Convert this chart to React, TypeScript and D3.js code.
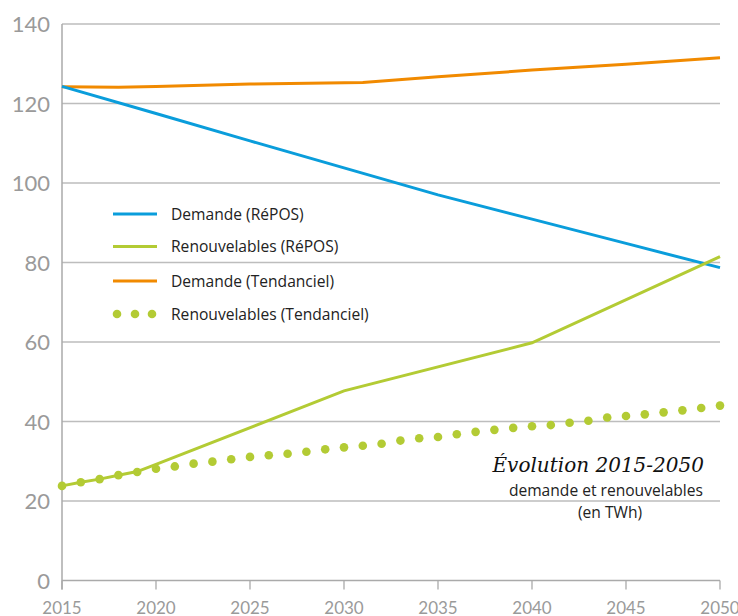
import React from "react";
import * as d3 from "d3";

const years = d3.range(2015, 2051);

// Renouvelables (Tendanciel): one dot per year
const renewTrend = [
  23.8, 24.7, 25.5, 26.5, 27.3, 28.1, 28.7, 29.4, 29.9, 30.5, 31.1, 31.5,
  31.9, 32.4, 33.0, 33.5, 33.9, 34.4, 35.2, 35.8, 36.1, 36.8, 37.4, 37.9,
  38.4, 38.8, 39.1, 39.7, 40.2, 41.0, 41.4, 41.8, 42.3, 42.8, 43.4, 44.0
];

const demandReposYears = [2015, 2020, 2025, 2030, 2035, 2040, 2045, 2050];
const demandRepos = [124.3, 117.5, 110.6, 103.8, 97.0, 90.9, 84.8, 78.7];

const renewReposYears = [2015, 2016, 2017, 2018, 2019, 2020, 2030, 2040, 2050];
const renewRepos = [23.8, 24.7, 25.5, 26.5, 27.4, 29.2, 47.7, 59.8, 81.5];

const demandTrendYears = [2015, 2018, 2020, 2025, 2031, 2035, 2040, 2045, 2050];
const demandTrend = [124.2, 124.1, 124.3, 124.9, 125.3, 126.7, 128.4, 129.9, 131.5];

const yTicks = [0, 20, 40, 60, 80, 100, 120, 140];
const xTicks = [2015, 2020, 2025, 2030, 2035, 2040, 2045, 2050];

const BLUE = "#0a9ddb";
const GREEN = "#b3cb34";
const ORANGE = "#f18a00";

const legendItems = [
  { label: "Demande (RéPOS)", color: BLUE, dotted: false },
  { label: "Renouvelables (RéPOS)", color: GREEN, dotted: false },
  { label: "Demande (Tendanciel)", color: ORANGE, dotted: false },
  { label: "Renouvelables (Tendanciel)", color: GREEN, dotted: true }
];

export default function App() {
  const x = d3.scaleLinear().domain([2015, 2050]).range([62, 720]);
  const y = d3.scaleLinear().domain([0, 140]).range([580.5, 24]);

  const line = d3
    .line<[number, number]>()
    .x(d => x(d[0]))
    .y(d => y(d[1]));

  const zip = (xs: number[], vs: number[]) =>
    xs.map((yr, i) => [yr, vs[i]] as [number, number]);

  const font = "'Open Sans', 'Noto Sans', sans-serif";

  return (
    <svg
      width={738}
      height={616}
      style={{ position: "absolute", left: 0, top: 0, background: "#fff" }}
    >
      {/* grid */}
      {yTicks.map(t => (
        <g key={t}>
          {t > 0 && (
            <line x1={x(2015)} x2={x(2050)} y1={y(t)} y2={y(t)} stroke="#bdbdbd" strokeWidth={1.3} />
          )}
          <text
            x={50}
            y={y(t) + 8}
            textAnchor="end"
            fontFamily="Lato, sans-serif"
            fontSize={22}
            fill="#9a9a9a"
          >
            {t}
          </text>
        </g>
      ))}

      {/* axes */}
      <line x1={x(2015)} x2={x(2015)} y1={y(140)} y2={y(0) + 9} stroke="#aaa" strokeWidth={1.5} />
      <line x1={x(2015)} x2={x(2050)} y1={y(0)} y2={y(0)} stroke="#aaa" strokeWidth={1.5} />
      {xTicks.map(t => (
        <g key={t}>
          <line x1={x(t)} x2={x(t)} y1={y(0)} y2={y(0) + 9} stroke="#aaa" strokeWidth={1.3} />
          <text
            x={x(t)}
            y={614}
            textAnchor="middle"
            fontFamily="Lato, sans-serif"
            fontSize={17}
            fill="#9a9a9a"
          >
            {t}
          </text>
        </g>
      ))}

      {/* series */}
      <path d={line(zip(demandTrendYears, demandTrend)) || ""} fill="none" stroke={ORANGE} strokeWidth={3} />
      <path d={line(zip(demandReposYears, demandRepos)) || ""} fill="none" stroke={BLUE} strokeWidth={3} />
      <path d={line(zip(renewReposYears, renewRepos)) || ""} fill="none" stroke={GREEN} strokeWidth={3} />
      {years.map((yr, i) => (
        <circle key={yr} cx={x(yr)} cy={y(renewTrend[i])} r={4.3} fill={GREEN} />
      ))}

      {/* legend */}
      {legendItems.map((d, i) => {
        const ly = [214, 246.5, 281, 314][i];
        return (
          <g key={d.label}>
            {d.dotted ? (
              [117, 135, 152].map(cx => <circle key={cx} cx={cx} cy={ly} r={4.3} fill={d.color} />)
            ) : (
              <line x1={113} x2={157} y1={ly} y2={ly} stroke={d.color} strokeWidth={3} />
            )}
            <text x={171} y={ly + 5.5} fontFamily={font} fontSize={15.6} fill="#222">
              {d.label}
            </text>
          </g>
        );
      })}

      {/* annotation */}
      <text
        x={704}
        y={472}
        textAnchor="end"
        fontFamily="'DejaVu Serif', serif"
        fontStyle="italic"
        fontSize={20}
        fill="#111"
      >
        Évolution 2015-2050
      </text>
      <text x={703} y={496} textAnchor="end" fontFamily={font} fontSize={15.6} fill="#222">
        demande et renouvelables
      </text>
      <text x={610} y={518} textAnchor="middle" fontFamily={font} fontSize={15.6} fill="#222">
        (en TWh)
      </text>
    </svg>
  );
}
